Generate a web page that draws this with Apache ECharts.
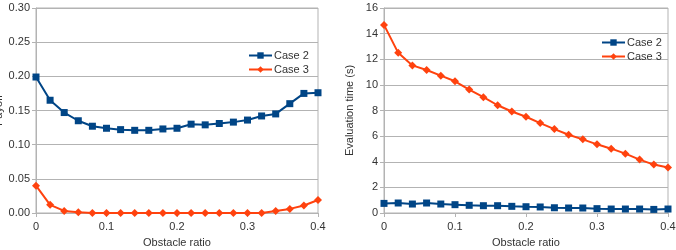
<!DOCTYPE html>
<html>
<head>
<meta charset="utf-8">
<script src="https://cdn.jsdelivr.net/npm/echarts@6/dist/echarts.min.js"></script>
<style>
  html, body { margin: 0; padding: 0; background: #fff; }
  #chart { width: 676px; height: 250px; }
</style>
</head>
<body>
<div id="chart"></div>
<script>
// obstacle ratio on the x axis (shared by both panels)
const ratios = [0, 0.02, 0.04, 0.06, 0.08, 0.10, 0.12, 0.14, 0.16, 0.18, 0.20,
  0.22, 0.24, 0.26, 0.28, 0.30, 0.32, 0.34, 0.36, 0.38, 0.40]

// left panel: payoff
const payoffCase2 = [0.199, 0.165, 0.147, 0.135, 0.127, 0.124, 0.122, 0.121, 0.121, 0.123, 0.124,
  0.130, 0.129, 0.131, 0.133, 0.136, 0.142, 0.145, 0.160, 0.175, 0.176]
const payoffCase3 = [0.040, 0.012, 0.003, 0.001, 0, 0, 0, 0, 0, 0, 0,
  0, 0, 0, 0, 0, 0, 0.003, 0.006, 0.011, 0.019]

// right panel: evaluation time (s)
const timeCase2 = [0.75, 0.78, 0.70, 0.78, 0.70, 0.65, 0.60, 0.57, 0.57, 0.52, 0.49,
  0.47, 0.41, 0.39, 0.39, 0.34, 0.31, 0.31, 0.31, 0.28, 0.31]
const timeCase3 = [14.68, 12.5, 11.52, 11.16, 10.72, 10.28, 9.63, 9.04, 8.41, 7.92, 7.51,
  7.02, 6.55, 6.11, 5.75, 5.36, 5.02, 4.63, 4.17, 3.78, 3.55]

const seriesNames = ['Case 2', 'Case 3']

const BLUE = '#004586'
const ORANGE = '#ff420e'
const FONT = 'Liberation Sans, Arial, sans-serif'
const pairs = (ys) => ratios.map((x, i) => [x, ys[i]])

const chart = echarts.init(document.getElementById('chart'), null, { renderer: 'canvas' })

const xAxisBase = {
  type: 'value',
  min: 0,
  max: 0.4,
  interval: 0.1,
  name: 'Obstacle ratio',
  nameLocation: 'middle',
  nameGap: 24,
  nameTextStyle: { color: '#333', fontSize: 11, fontFamily: FONT },
  axisLine: { show: true, onZero: false, lineStyle: { color: '#b3b3b3', width: 1 } },
  axisTick: { show: true, length: 4, lineStyle: { color: '#b3b3b3' } },
  axisLabel: {
    color: '#333', fontSize: 11, fontFamily: FONT, margin: 8,
    formatter: (v) => (v === 0 ? '0' : String(+v.toFixed(1)))
  },
  splitLine: { show: false }
}

const yAxisBase = {
  type: 'value',
  nameLocation: 'middle',
  nameTextStyle: { color: '#333', fontSize: 11, fontFamily: FONT },
  axisLine: { show: true, lineStyle: { color: '#b3b3b3', width: 1 } },
  axisTick: { show: true, length: 4, lineStyle: { color: '#b3b3b3' } },
  axisLabel: { color: '#333', fontSize: 11, fontFamily: FONT, margin: 6 },
  splitLine: { show: true, lineStyle: { color: '#b3b3b3', width: 1 } }
}

const lineSeries = (name, idx, data, color, symbol) => ({
  name,
  type: 'line',
  xAxisIndex: idx,
  yAxisIndex: idx,
  data,
  symbol,
  symbolSize: symbol === 'rect' ? 7 : 8,
  showSymbol: true,
  lineStyle: { color, width: 2 },
  itemStyle: { color },
  animation: false
})

const legendBase = {
  orient: 'vertical',
  itemWidth: 23,
  itemHeight: 8,
  itemGap: 3,
  textStyle: { color: '#333', fontSize: 11, fontFamily: FONT, padding: [0, 0, 0, -3] },
  data: seriesNames
}

chart.setOption({
  animation: false,
  backgroundColor: '#fff',
  grid: [
    { left: 36, top: 8, width: 282, height: 205, outerBoundsMode: 'none', containLabel: false,
      show: true, borderColor: '#b3b3b3', borderWidth: 1 },
    { left: 384, top: 8, width: 284, height: 205, outerBoundsMode: 'none', containLabel: false,
      show: true, borderColor: '#b3b3b3', borderWidth: 1 }
  ],
  xAxis: [
    Object.assign({}, xAxisBase, { gridIndex: 0 }),
    Object.assign({}, xAxisBase, { gridIndex: 1 })
  ],
  yAxis: [
    Object.assign({}, yAxisBase, {
      gridIndex: 0, min: 0, max: 0.3, interval: 0.05,
      name: 'Payoff', nameGap: 31,
      axisLabel: Object.assign({}, yAxisBase.axisLabel, { formatter: (v) => v.toFixed(2) })
    }),
    Object.assign({}, yAxisBase, {
      gridIndex: 1, min: 0, max: 16, interval: 2,
      name: 'Evaluation time (s)', nameGap: 29
    })
  ],
  legend: [
    Object.assign({}, legendBase, { left: 243, top: 45 }),
    Object.assign({}, legendBase, { left: 596, top: 32 })
  ],
  series: [
    lineSeries('Case 2', 0, pairs(payoffCase2), BLUE, 'rect'),
    lineSeries('Case 3', 0, pairs(payoffCase3), ORANGE, 'diamond'),
    lineSeries('Case 2', 1, pairs(timeCase2), BLUE, 'rect'),
    lineSeries('Case 3', 1, pairs(timeCase3), ORANGE, 'diamond')
  ]
})
</script>
</body>
</html>
